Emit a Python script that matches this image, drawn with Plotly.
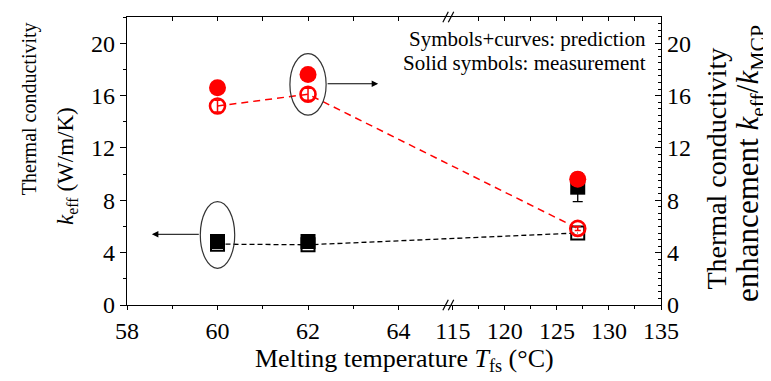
import plotly.graph_objects as go

# ---------------- data ----------------
T = [60, 62, 127]                       # melting temperature Tfs (°C)
k_meas = [4.85, 4.85, 9.0]              # solid black squares, k_eff measured (W/m/K)
k_meas_err = [0.0, 0.0, 1.1]
k_pred = [4.65, 4.6, 5.5]               # open black squares + dashed curve (prediction)
enh_meas = [16.6, 17.6, 9.6]            # solid red circles, enhancement measured
enh_pred = [15.2, 16.1, 5.85]           # open red circles + dashed curve (prediction)
enh_pred_err = [0.45, 0.45, 0.15]

x_major = [58, 60, 62, 64, 115, 120, 125, 130, 135]
x_minor = [59, 61, 63, 117.5, 122.5, 127.5, 132.5]
x_top = [59, 60, 61, 62, 63, 64, 117.5, 120, 122.5, 125, 127.5, 130, 132.5]
y_major = [0, 4, 8, 12, 16, 20]

# ---------------- broken x-axis transform ----------------
BRK_LO, BRK_HI, GAP, SCALE = 65.0, 115.0, 0.2, 0.23


def bx(v):
    return v if v <= BRK_LO else BRK_LO + GAP + (v - BRK_HI) * SCALE


X = [bx(v) for v in T]
XR = [58, bx(135)]
BRK = BRK_LO + GAP / 2

FONT = '"Times New Roman", "Liberation Serif", "DejaVu Serif", serif'

fig = go.Figure()

# black: k_eff (left axis)
fig.add_trace(go.Scatter(x=X, y=k_pred, mode="lines+markers",
                         line=dict(color="black", width=1.3, dash="5px,3px"),
                         marker=dict(symbol="square-open", size=13, color="black",
                                     line=dict(width=2)),
                         xaxis="x", yaxis="y", showlegend=False))
fig.add_trace(go.Scatter(x=X, y=k_meas, mode="markers",
                         marker=dict(symbol="square", size=15, color="black"),
                         error_y=dict(type="data", array=k_meas_err, color="black",
                                      thickness=1.3, width=5),
                         xaxis="x", yaxis="y", showlegend=False))

# red: enhancement (right axis)
fig.add_trace(go.Scatter(x=X, y=enh_pred, mode="lines+markers",
                         line=dict(color="#ff0000", width=1.5, dash="7px,5px"),
                         marker=dict(symbol="circle-open", size=15, color="#ff0000",
                                     line=dict(width=2.6)),
                         error_y=dict(type="data", array=enh_pred_err, color="#ff0000",
                                      thickness=1.5, width=3),
                         xaxis="x2", yaxis="y2", showlegend=False))
fig.add_trace(go.Scatter(x=X, y=enh_meas, mode="markers",
                         marker=dict(symbol="circle", size=17, color="#ff0000"),
                         xaxis="x2", yaxis="y2", showlegend=False))

# ellipses + arrows
fig.add_shape(type="circle", xref="x", yref="y2", x0=bx(62) - 0.4, x1=bx(62) + 0.4,
              y0=14.5, y1=19.2, line=dict(color="#333333", width=1.2))
fig.add_shape(type="circle", xref="x", yref="y", x0=bx(60) - 0.38, x1=bx(60) + 0.38,
              y0=2.8, y1=7.9, line=dict(color="#333333", width=1.2))
fig.add_annotation(x=63.55, y=16.9, ax=bx(62) + 0.4, ay=16.9, xref="x", yref="y2",
                   axref="x", ayref="y2", showarrow=True, arrowhead=2, arrowsize=1.3,
                   arrowwidth=1, arrowcolor="black", text="")
fig.add_annotation(x=58.55, y=5.4, ax=bx(60) - 0.38, ay=5.4, xref="x", yref="y",
                   axref="x", ayref="y", showarrow=True, arrowhead=2, arrowsize=1.3,
                   arrowwidth=1, arrowcolor="black", text="")

# axis break marks (bottom and top)
for yp in (0, 1):
    for dxp in (-0.06, 0.06):
        fig.add_shape(type="line", xref="x", yref="paper",
                      x0=BRK + dxp - 0.06, x1=BRK + dxp + 0.06,
                      y0=yp - 0.018, y1=yp + 0.018,
                      line=dict(color="black", width=1.2))

# legend text
fig.add_annotation(x=0.976, y=0.924, xref="paper", yref="paper", xanchor="right",
                   yanchor="middle", text="Symbols+curves: prediction", showarrow=False,
                   font=dict(family=FONT, size=21, color="black"))
fig.add_annotation(x=0.976, y=0.842, xref="paper", yref="paper", xanchor="right",
                   yanchor="middle", text="Solid symbols: measurement", showarrow=False,
                   font=dict(family=FONT, size=21, color="black"))

# axis titles as annotations (placed like the reference)
fig.add_annotation(x=0.519, y=-0.192, xref="paper", yref="paper", xanchor="center",
                   yanchor="middle", showarrow=False,
                   text="Melting temperature <i>T</i><sub>fs</sub> (°C)",
                   font=dict(family=FONT, size=26, color="black"))
fig.add_annotation(x=-0.1835, y=0.68, xref="paper", yref="paper", textangle=-90,
                   xanchor="center", yanchor="middle", showarrow=False,
                   text="Thermal conductivity",
                   font=dict(family=FONT, size=20, color="black"))
fig.add_annotation(x=-0.112, y=0.483, xref="paper", yref="paper", textangle=-90,
                   xanchor="center", yanchor="middle", showarrow=False,
                   text="<i>k</i><sub>eff</sub> (W/m/K)",
                   font=dict(family=FONT, size=23, color="black"))
fig.add_annotation(x=1.103, y=0.474, xref="paper", yref="paper", textangle=-90,
                   xanchor="center", yanchor="middle", showarrow=False,
                   text="Thermal conductivity",
                   font=dict(family=FONT, size=28, color="black"))
fig.add_annotation(x=1.1667, y=0.49, xref="paper", yref="paper", textangle=-90,
                   xanchor="center", yanchor="middle", showarrow=False,
                   text="enhancement <i>k</i><sub>eff</sub>/<i>k</i><sub>MCP</sub>",
                   font=dict(family=FONT, size=31, color="black"))

tick_font = dict(family=FONT, size=24, color="black")

# page body has an 8px margin, so the figure is 8px smaller than the window
fig.update_layout(
    width=763, height=373,
    margin=dict(l=119, r=110, t=9, b=76),
    paper_bgcolor="white", plot_bgcolor="white",
    font=dict(family=FONT, color="black"),
    xaxis=dict(range=XR, tickmode="array", tickvals=[bx(v) for v in x_major],
               ticktext=[str(v) for v in x_major], ticks="outside", ticklen=4,
               tickwidth=1.2, tickcolor="black", showline=True, linecolor="black",
               linewidth=1.3, showgrid=False, zeroline=False, tickfont=tick_font,
               automargin=False,
               minor=dict(tickmode="array", tickvals=[bx(v) for v in x_minor],
                          ticks="outside", ticklen=3, tickcolor="black", showgrid=False)),
    xaxis2=dict(range=XR, overlaying="x", side="top", tickmode="array",
                tickvals=[bx(v) for v in x_top], showticklabels=False, ticks="inside",
                ticklen=4, tickwidth=1.2, tickcolor="black", showline=True,
                linecolor="black", linewidth=1.3, showgrid=False, zeroline=False,
                automargin=False),
    yaxis=dict(range=[0, 22], tickmode="array", tickvals=y_major, ticks="outside",
               ticklen=6, tickwidth=1.2, tickcolor="black", showline=True,
               linecolor="black", linewidth=1.3, showgrid=False, zeroline=False,
               tickfont=tick_font, automargin=False,
               minor=dict(dtick=2, tick0=0, ticks="outside", ticklen=3,
                          tickcolor="black", showgrid=False)),
    yaxis2=dict(range=[0, 22], overlaying="y", side="right", tickmode="array",
                tickvals=y_major, ticks="inside", ticklen=6, tickwidth=1.2,
                tickcolor="black", showline=True, linecolor="black", linewidth=1.3,
                showgrid=False, zeroline=False, tickfont=tick_font, automargin=False,
                minor=dict(dtick=0.5, tick0=0, ticks="inside", ticklen=3,
                           tickcolor="black", showgrid=False)),
)

fig.write_html("out.html")
